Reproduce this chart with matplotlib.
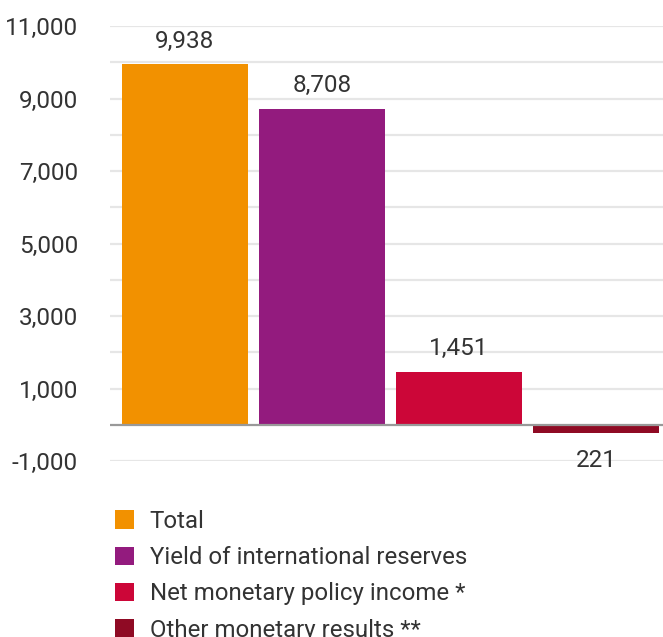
import matplotlib
matplotlib.use("Agg")
import matplotlib.pyplot as plt
from matplotlib.patches import Patch
from matplotlib.ticker import FuncFormatter

# data
categories = ["Total", "Yield of international reserves",
              "Net monetary policy income *", "Other monetary results **"]
values = [9938, 8708, 1451, -221]
colors = ["#F29100", "#931B7E", "#CC0638", "#8F0A24"]
tick_values = [-1000, 1000, 3000, 5000, 7000, 9000, 11000]
grid_values = list(range(-1000, 11001, 1000))

plt.rcParams['font.family'] = ['Roboto', 'DejaVu Sans']
text_color = "#333333"

fig = plt.figure(figsize=(6.63, 6.37), dpi=100)
ax = fig.add_axes([110 / 663, 1 - 461 / 637, 1 - 110 / 663, (461 - 26) / 637])

x = list(range(len(values)))
bars = ax.bar(x, values, width=0.92, color=colors, zorder=3)

for gv in grid_values:
    if gv == 0:
        continue
    ax.axhline(gv, color="#e6e6e6", lw=1.6, zorder=1)
ax.axhline(0, color="#999999", lw=1.6, zorder=4)

for xi, v in zip(x, values):
    if v >= 0:
        ax.text(xi, v + 330, f"{v:,}", ha="center", va="bottom",
                fontsize=17.5, color=text_color)
    else:
        ax.text(xi, v - 440, f"{abs(v):,}", ha="center", va="top",
                fontsize=17.5, color=text_color)

ax.set_xlim(-0.547, 3.489)
ax.set_ylim(-1000, 11000)
ax.set_yticks(tick_values)
ax.yaxis.set_major_formatter(FuncFormatter(lambda v, p: f"{int(v):,}"))
ax.tick_params(axis="y", length=0, pad=23, labelsize=17.5, labelcolor=text_color)
ax.set_xticks([])
for s in ax.spines.values():
    s.set_visible(False)

handles = [Patch(facecolor=c, edgecolor="none") for c in colors]
fig.legend(handles, categories, loc="upper left",
           bbox_to_anchor=(115 / 663, 1 - 510 / 637),
           frameon=False, fontsize=17.3, labelcolor=text_color,
           handlelength=0.8, handleheight=0.8, handletextpad=0.65,
           labelspacing=0.55, borderaxespad=0, borderpad=0)

fig.savefig("out.png", dpi=100)
